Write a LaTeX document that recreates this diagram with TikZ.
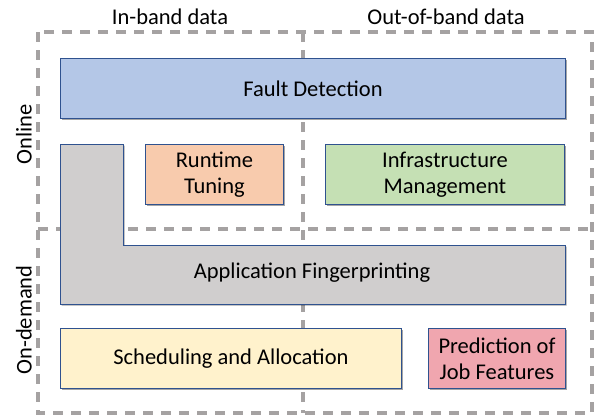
\documentclass[tikz,border=0pt]{standalone}
\usepackage{fontspec}
\setmainfont{Carlito}
\usetikzlibrary{shadows}

\definecolor{edgeblue}{RGB}{47,82,143}
\definecolor{framegray}{RGB}{165,162,162}
\definecolor{faultblue}{RGB}{180,199,231}
\definecolor{fpgray}{RGB}{208,206,206}
\definecolor{tuneorange}{RGB}{248,203,173}
\definecolor{infragreen}{RGB}{197,224,180}
\definecolor{schedyellow}{RGB}{255,242,204}
\definecolor{predpink}{RGB}{240,166,175}

\begin{document}
\begin{tikzpicture}[x=1pt,y=-1pt,
  txt/.style={font=\fontsize{22.5}{26}\selectfont},
  softshadow/.style={drop shadow={shadow xshift=1.5pt, shadow yshift=-1.5pt, opacity=0.35, fill=black}},
  box/.style={txt, draw=edgeblue, line width=0.9pt, anchor=north west,
    inner sep=0pt, align=center, softshadow},
  frame/.style={draw=framegray, line width=3.5pt, dash pattern=on 10pt off 8pt}]

\useasboundingbox (0,0) rectangle (596,416);

% dashed quadrant frame
\draw[frame] (38,32) rectangle (592,413);
\draw[frame] (303,32) -- (303,413);
\draw[frame] (38,229) -- (592,229);

% column and row headings
\node[txt] (inband) at (170,17) {In-band data};
\node[txt] (outband) at (446,17) {Out-of-band data};
\node[txt, rotate=90] (online) at (24,134) {Online};
\node[txt, rotate=90] (ondemand) at (24,320) {On-demand};

% top bar
\node[box, fill=faultblue, minimum width=505pt, minimum height=60pt] (fault) at (60,58) {Fault Detection};

% L-shaped fingerprinting block
\filldraw[fill=fpgray, draw=edgeblue, line width=0.9pt, softshadow]
  (60,144) -- (123,144) -- (123,245) -- (565,245) -- (565,304) -- (60,304) -- cycle;
\node[txt] (fingerprint) at (312,273) {Application Fingerprinting};

% small boxes
\node[box, fill=tuneorange, minimum width=138pt, minimum height=60pt] (tuning) at (145,144) {Runtime\\Tuning};
\node[box, fill=infragreen, minimum width=239pt, minimum height=60pt] (infra) at (325,144) {Infrastructure\\Management};
\node[box, fill=schedyellow, minimum width=341pt, minimum height=60pt] (sched) at (60,328) {Scheduling and Allocation};
\node[box, fill=predpink, minimum width=137pt, minimum height=60pt] (pred) at (428,328) {Prediction of\\Job Features};

\end{tikzpicture}
\end{document}
